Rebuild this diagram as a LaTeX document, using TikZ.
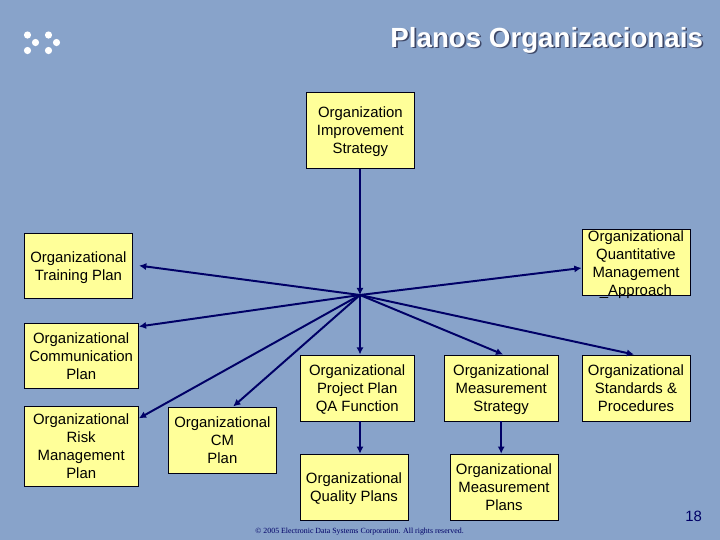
\documentclass[tikz,border=0pt]{standalone}
\usepackage{xcolor}
\usepackage{fontspec}
\setmainfont{Liberation Sans}
\newfontfamily\footfont{Liberation Serif}
\usetikzlibrary{arrows.meta}
\definecolor{slideblue}{RGB}{136, 163, 202}
\definecolor{boxyellow}{RGB}{255, 255, 153}
\definecolor{linenavy}{RGB}{0, 0, 102}
\definecolor{titleshade}{RGB}{62, 72, 104}
\newcommand{\slidetitle}{Planos Organizacionais}

\begin{document}
\begin{tikzpicture}[
  planbox/.style={draw=black!80!linenavy, fill=boxyellow, rectangle, line width=0.7pt, inner sep=0pt, align=center, minimum height=1.65cm, text depth=0pt, font=\fontsize{10.6}{12.8}\selectfont},
  flow/.style={draw=linenavy, line width=1.4pt, -{Latex[length=1.8mm, width=1.8mm]}}
]
\useasboundingbox (0, 0) rectangle (18, -13.5);
\fill[slideblue] (0, 0) rectangle (18, -13.5);

% Logo dots
\foreach \dotx/\doty in {27.5/35, 35.5/42.5, 27.5/50.5, 48.5/35, 56.5/42.5, 48.5/50.5}
  \fill[white] (\dotx/40, -\doty/40) circle (0.09);

\node[anchor=east, font=\fontsize{19.7}{23}\selectfont\bfseries, text=white, inner sep=0pt] (title) at (17.58, -1.02) {\rlap{\kern1.1pt\raisebox{-1.1pt}{\textcolor{titleshade}{\slidetitle}}}\slidetitle};

\node[planbox, minimum width=2.72cm, minimum height=1.92cm] (impr) at (9.01, -3.26) {Organization\\Improvement\\Strategy};
\node[planbox, minimum width=2.71cm, minimum height=1.63cm] (train) at (1.96, -6.64) {Organizational\\Training Plan};
\node[planbox, minimum width=2.7cm] (quant) at (15.9, -6.55) {\smash{\raisebox{-4.5pt}{\parbox[c]{2.7cm}{\centering Organizational\\Quantitative\\Management\\\_Approach}}}};
\node[planbox, minimum width=2.86cm, minimum height=1.63cm] (comm) at (2.03, -8.89) {Organizational\\Communication\\Plan};
\node[planbox, minimum width=2.86cm, minimum height=1.98cm] (risk) at (2.03, -11.16) {Organizational\\Risk\\Management\\Plan};
\node[planbox, minimum width=2.71cm] (cmplan) at (5.56, -11.0) {Organizational\\CM\\Plan};
\node[planbox, minimum width=2.85cm] (proj) at (8.93, -9.7) {Organizational\\Project Plan\\QA Function};
\node[planbox, minimum width=2.85cm] (mstrat) at (12.53, -9.7) {Organizational\\Measurement\\Strategy};
\node[planbox, minimum width=2.7cm] (stand) at (15.9, -9.7) {Organizational\\Standards \&\\Procedures};
\node[planbox, minimum width=2.7cm] (qual) at (8.85, -12.18) {Organizational\\Quality Plans};
\node[planbox, minimum width=2.7cm] (mplans) at (12.6, -12.18) {Organizational\\Measurement\\Plans};

\coordinate (hub) at (9.0, -7.375);

\node[font=\fontsize{5.6}{7}\selectfont\footfont, text=linenavy, inner sep=0pt] (foot) at (8.99, -13.28) {© 2005 Electronic Data Systems Corporation. All rights reserved.};
\node[font=\fontsize{10.6}{12.8}\selectfont, text=linenavy, inner sep=0pt] (pagenum) at (17.34, -12.9) {18};

% Connections
\draw[flow] (impr.south -| hub) -- (hub);
\draw[flow] (hub) -- ([xshift=0.15cm]train.east);
\draw[flow] (hub) -- ([yshift=-0.15cm]quant.west);
\draw[flow] (hub) -- ([yshift=-0.1cm]comm.north east);
\draw[flow] (hub) -- ([yshift=-0.3cm]risk.north east);
\draw[flow] (hub) -- ([xshift=0.27cm]cmplan.north);
\draw[flow] (hub) -- (hub |- proj.north);
\draw[flow] (hub) -- ([xshift=0.05cm]mstrat.north);
\draw[flow] (hub) -- ([xshift=-0.05cm]stand.north);
\draw[flow] (proj.south -| hub) -- (hub |- qual.north);
\draw[flow] (mstrat) -- (mstrat |- mplans.north);

\end{tikzpicture}
\end{document}
